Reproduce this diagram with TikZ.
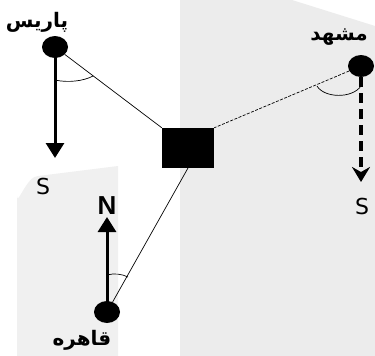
\documentclass[tikz,border=0pt]{standalone}
\usepackage{fontspec}
\TeXXeTstate=1
\newfontfamily\arabicfont[Script=Arabic]{DejaVu Sans}
\newfontfamily\latfont{DejaVu Sans}
\newfontfamily\boldlat{Liberation Sans}
\usetikzlibrary{arrows.meta,calc,shapes.geometric}
\tikzset{
  dot/.style={ellipse, fill=black, minimum width=26pt, minimum height=22pt, inner sep=0pt},
  city/.style={font=\arabicfont\fontsize{20}{20}\selectfont\bfseries, inner sep=0pt},
  dirlbl/.style={font=\latfont\fontsize{22}{22}\selectfont, inner sep=0pt},
  nlbl/.style={font=\boldlat\fontsize{26}{26}\selectfont\bfseries, inner sep=0pt},
  thin line/.style={line width=0.7pt},
  bigarrow/.style={line width=3pt, -{Triangle[width=18pt,length=15pt]}},
  dasharrow/.style={line width=3.5pt, dash pattern=on 10pt off 6pt, -{Stealth[width=18pt,length=15pt,inset=5pt]}},
  anglearc/.style={line width=0.7pt}
}
\begin{document}
\begin{tikzpicture}[x=1pt,y=-1pt]
\useasboundingbox (0,0) rectangle (375,356);
% background
\fill[white] (0,0) rectangle (375,356);
\fill[gray!15] (180,0) -- (292,0) -- (375,26) -- (375,356) -- (180,356) -- cycle;
\fill[gray!12] (17,356) -- (17,196) to[out=-90,in=180] (38,176) -- (118,166) -- (118,356) -- cycle;
% nodes
\node[dot] (P) at (55,47) {};
\node[dot] (M) at (361,66) {};
\node[dot] (C) at (107,312) {};
\node[fill=black, minimum width=52pt, minimum height=40pt, inner sep=0pt] (box) at (188,148) {};
\node[city] (Pl) at (37,22) {\beginR پاریس\endR};
\node[city] (Ml) at (339,37) {\beginR مشهد\endR};
\node[city] (Cl) at (82,340) {\beginR قاهره\endR};
\node[dirlbl] (S1) at (43,186) {S};
\node[dirlbl] (S2) at (362,206) {S};
\node[nlbl] (N) at (107,206) {N};
\coordinate (PS) at (55,158);
\coordinate (MS) at (361,182);
\coordinate (CN) at (107,217);
\coordinate (boxb) at (188,168);
% connectors
\draw[thin line] (P) -- (box.north west);
\draw[thin line, dash pattern=on 3pt off 1.5pt] (M) -- (box.north east);
\draw[thin line] (C) -- (boxb);
% direction arrows
\draw[bigarrow] (P.center) -- (PS);
\draw[dasharrow] (M.south) -- (MS);
\draw[bigarrow] (C.center) -- (CN);
% angle marks
\draw[anglearc] (55,80) .. controls (68,83) and (84,81) .. (93,76);
\draw[anglearc] (317,86) .. controls (324,98) and (352,99) .. (361,86);
\draw[anglearc] (107,275) .. controls (114,273) and (122,274) .. (128,277);
\end{tikzpicture}
\end{document}
